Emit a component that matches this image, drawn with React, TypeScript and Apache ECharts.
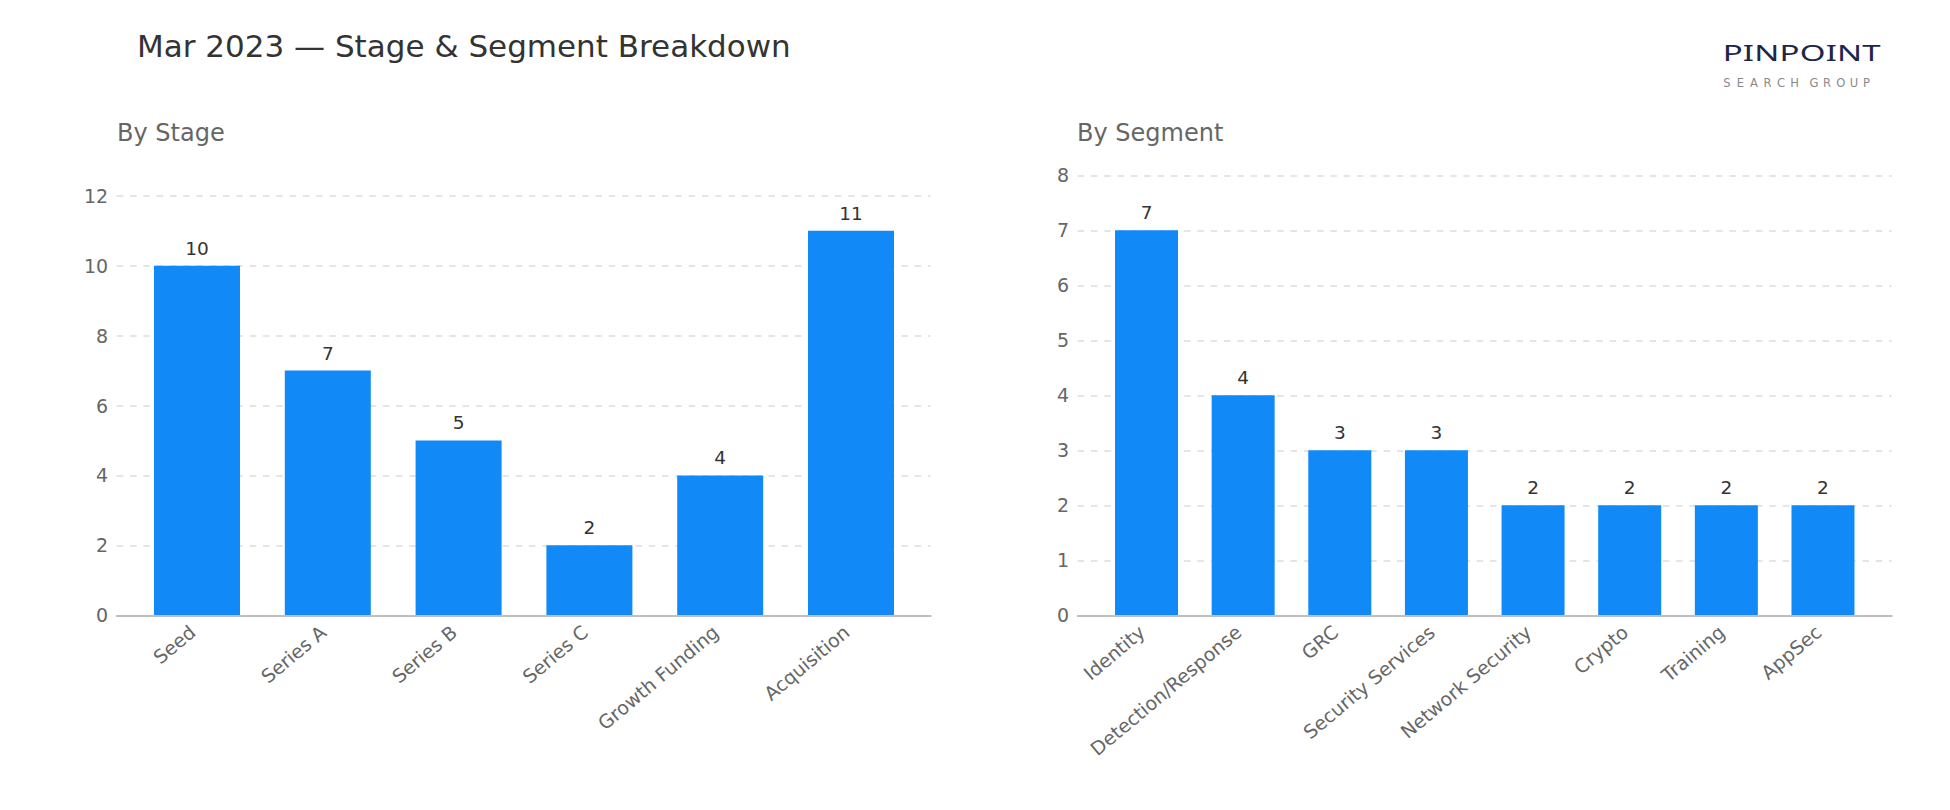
import React, { useEffect, useRef } from "react";
import * as echarts from "echarts";

const stageCategories = ["Seed", "Series A", "Series B", "Series C", "Growth Funding", "Acquisition"];
const stageValues = [10, 7, 5, 2, 4, 11];
const segmentCategories = ["Identity", "Detection/Response", "GRC", "Security Services", "Network Security", "Crypto", "Training", "AppSec"];
const segmentValues = [7, 4, 3, 3, 2, 2, 2, 2];

const mainTitle = "Mar 2023 \u2014 Stage & Segment Breakdown";
const leftTitle = "By Stage";
const rightTitle = "By Segment";
const logoTop = "PINPOINT";
const logoBottom = "SEARCH GROUP";

const FONT = "DejaVu Sans";
const BAR = "#1189F7";

function measure(text: string, font: string): number {
  const c = document.createElement("canvas").getContext("2d");
  if (!c) return text.length * 10;
  c.font = font;
  return c.measureText(text).width;
}

export default function App() {
  const ref = useRef<HTMLDivElement>(null);
  useEffect(() => {
    if (!ref.current) return;
    const chart = echarts.init(ref.current, null, { renderer: "svg" });

    // logo letters
    const logoFont = `400 22px 'Noto Sans'`;
    const sx = 1.5;
    const letters = logoTop.split("");
    const widths = letters.map((ch) => measure(ch, logoFont) * sx);
    const total = widths.reduce((a, b) => a + b, 0);
    const gap = (158 - total) / (letters.length - 1);
    let cx = 1722.7;
    const topLetters = letters.map((ch, i) => {
      const el = {
        type: "text",
        x: cx,
        y: 52,
        scaleX: sx,
        style: { text: ch, fill: "#20244a", font: logoFont, verticalAlign: "middle" },
      };
      cx += widths[i] + gap;
      return el;
    });
    let bx = 1723.3;
    const subLetters: any[] = [];
    logoBottom.split("").forEach((ch) => {
      if (ch === " ") {
        bx += 5.8;
        return;
      }
      subLetters.push({
        type: "text",
        x: bx,
        y: 82.6,
        style: { text: ch, fill: "#8a8a8a", font: `11.5px ${FONT}`, verticalAlign: "middle" },
      });
      bx += 13.4;
    });

    const outerX = (gridIndex: number) => ({
      type: "value",
      gridIndex,
      min: 0,
      max: 1,
      z: 5,
      axisLine: { show: true, onZero: false, lineStyle: { color: "#bfbfbf", width: 2 } },
      axisTick: { show: false },
      axisLabel: { show: false },
      splitLine: { show: false },
    });
    const innerX = (gridIndex: number, cats: string[]) => ({
      type: "category",
      gridIndex,
      data: cats,
      axisLine: { show: false },
      axisTick: { show: false },
      axisLabel: { rotate: 40, color: "#666666", fontSize: 19, fontFamily: FONT, margin: 10, padding: [0, 6, 0, 0] },
    });
    const outerY = (gridIndex: number, max: number, interval: number) => ({
      type: "value",
      gridIndex,
      min: 0,
      max,
      interval,
      axisLine: { show: false },
      axisTick: { show: false },
      axisLabel: { color: "#666666", fontSize: 19, fontFamily: FONT, margin: 8.5 },
      splitLine: { lineStyle: { color: "#dddddd", type: [6.5, 6.8], width: 1.5 } },
    });
    const innerY = (gridIndex: number, max: number, interval: number) => ({
      type: "value",
      gridIndex,
      min: 0,
      max,
      interval,
      show: false,
      splitLine: { show: false },
    });
    const barCommon = {
      type: "bar",
      itemStyle: { color: BAR },
      label: { show: true, position: "top", color: "#333333", fontSize: 18.5, fontFamily: FONT, distance: 8 },
    };

    chart.setOption({
      animation: false,
      backgroundColor: "#ffffff",
      textStyle: { fontFamily: FONT },
      grid: [
        { left: 116.7, right: 1019.3, top: 195.7, bottom: 194.7 },
        { left: 131.6, right: 1033.6, top: 195.7, bottom: 194.7 },
        { left: 1077.7, right: 58.3, top: 175.3, bottom: 194.7 },
        { left: 1098.2, right: 78.7, top: 175.3, bottom: 194.7 },
      ],
      xAxis: [outerX(0), innerX(1, stageCategories), outerX(2), innerX(3, segmentCategories)],
      yAxis: [outerY(0, 12, 2), innerY(1, 12, 2), outerY(2, 8, 1), innerY(3, 8, 1)],
      series: [
        { ...barCommon, xAxisIndex: 1, yAxisIndex: 1, barWidth: 86, data: stageValues },
        { ...barCommon, xAxisIndex: 3, yAxisIndex: 3, barWidth: 63, data: segmentValues },
      ],
      graphic: [
        { type: "text", x: 137, y: 46, style: { text: mainTitle, fill: "#333333", font: `31px ${FONT}`, verticalAlign: "middle" } },
        { type: "text", x: 117, y: 133, style: { text: leftTitle, fill: "#666666", font: `24px ${FONT}`, verticalAlign: "middle" } },
        { type: "text", x: 1077, y: 133, style: { text: rightTitle, fill: "#666666", font: `24px ${FONT}`, verticalAlign: "middle" } },
        ...topLetters,
        ...subLetters,
      ],
    });
    return () => chart.dispose();
  }, []);
  return <div ref={ref} style={{ position: "absolute", left: 0, top: 0, width: 1950, height: 810 }} />;
}
